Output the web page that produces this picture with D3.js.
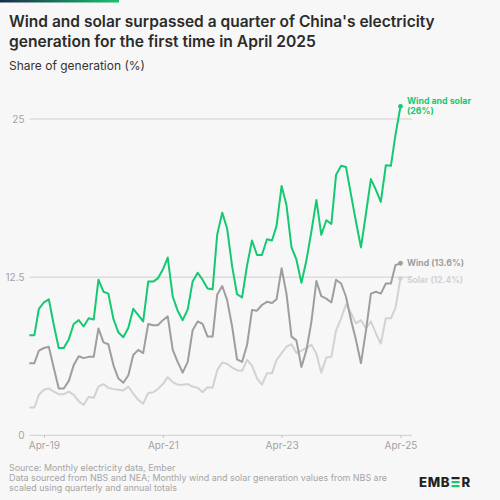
<!DOCTYPE html>
<html>
<head>
<meta charset="utf-8">
<script src="https://cdn.jsdelivr.net/npm/d3@7"></script>
<style>
  html, body { margin: 0; padding: 0; background: #f7f7f7; }
  svg { display: block; }
  text { font-family: Inter, "Noto Sans", sans-serif; }
</style>
</head>
<body>
<svg id="chart" width="500" height="500"></svg>
<script>
// ---- data (monthly, Jan 2019 to Apr 2025) ----
const startMonth = "2019-01";
const windSolar = [7.9,7.9,10.0,10.5,10.75,8.7,6.9,6.9,7.6,8.8,9.1,8.6,
  9.25,9.15,12.3,11.35,11.2,9.2,8.15,7.75,8.5,10.0,9.5,9.0,
  12.15,12.15,12.4,13.1,14.05,10.95,9.85,9.1,9.95,12.15,12.85,12.3,
  11.6,11.55,15.85,17.6,16.35,13.35,11.15,10.9,13.45,15.4,14.25,14.25,
  15.5,15.4,16.55,19.7,18.2,14.85,13.9,12.05,13.85,16.1,18.6,15.85,
  17.0,16.7,20.6,21.3,21.2,19.0,16.9,14.85,17.55,20.25,19.4,18.45,
  21.35,21.3,23.75,26.0];
const wind = [5.7,5.7,6.7,6.9,7.0,5.3,3.7,3.7,4.3,5.55,6.25,6.1,
  6.2,6.2,8.45,7.35,7.2,5.55,4.5,4.15,4.75,6.35,6.75,6.5,
  8.8,8.7,8.7,9.1,9.4,6.75,5.8,4.95,5.8,8.3,9.0,8.8,
  7.8,7.8,11.1,11.8,10.7,8.6,6.0,5.8,7.15,9.9,9.85,10.3,
  10.55,10.45,10.75,13.2,11.2,7.8,7.5,5.4,6.75,8.95,12.2,11.0,
  10.8,10.5,12.3,12.0,10.95,9.1,7.55,5.7,8.3,11.2,11.35,11.2,
  12.0,12.0,13.45,13.6];
const solar = [2.2,2.2,3.2,3.6,3.7,3.45,3.25,3.25,3.45,3.2,2.7,2.4,
  3.05,2.95,3.85,4.05,3.75,3.65,3.6,3.55,3.85,3.3,2.8,2.5,
  3.35,3.4,3.65,4.05,4.6,4.2,4.0,4.0,4.05,3.85,3.75,3.4,
  3.8,3.75,5.15,5.75,5.65,5.35,5.15,5.1,5.95,5.5,4.5,4.0,
  4.9,4.9,5.95,6.5,7.0,7.2,6.5,6.7,6.9,7.15,6.45,4.95,
  6.15,6.2,8.3,9.25,10.35,9.65,8.85,9.1,8.45,9.0,8.05,7.25,
  9.25,9.25,10.05,12.4];
const seriesNames = ["Wind and solar", "Wind", "Solar"];
const seriesLabels = ["(26%)", "(13.6%)", "(12.4%)"];
const yTicks = [0, 12.5, 25];
const yTickLabels = ["0", "12.5", "25"];
const xTickDates = ["2019-04", "2021-04", "2023-04", "2025-04"];
const xTickLabels = ["Apr-19", "Apr-21", "Apr-23", "Apr-25"];
const title = ["Wind and solar surpassed a quarter of China's electricity",
               "generation for the first time in April 2025"];
const subtitle = "Share of generation (%)";
const source = ["Source: Monthly electricity data, Ember",
  "Data sourced from NBS and NEA; Monthly wind and solar generation values from NBS are",
  "scaled using quarterly and annual totals"];

// ---- setup ----
const parse = d3.timeParse("%Y-%m");
const months = d3.range(windSolar.length).map(i => d3.timeMonth.offset(parse(startMonth), i));
const svg = d3.select("#chart");
const colors = ["#14c972", "#9e9e9e", "#d2d2d2"];

function fitText(sel, target) {
  const node = sel.node();
  const fs = parseFloat(sel.attr("font-size"));
  const w = node.getComputedTextLength();
  sel.attr("font-size", (fs * target / w).toFixed(2));
}

// top accent bar
const grad = svg.append("defs").append("linearGradient").attr("id", "topbar");
grad.append("stop").attr("offset", "0%").attr("stop-color", "#1b2a4a");
grad.append("stop").attr("offset", "100%").attr("stop-color", "#19c36f");
svg.append("rect").attr("x", 0).attr("y", 0).attr("width", 119).attr("height", 2.5).attr("fill", "url(#topbar)");

// title
const tWidths = [426, 307];
title.forEach((t, i) => {
  const s = svg.append("text").attr("x", 9).attr("y", 27 + i * 20)
    .attr("font-size", 17).attr("font-weight", 600).attr("fill", "#2b2b2b").text(t);
  fitText(s, tWidths[i]);
});
const sub = svg.append("text").attr("x", 9).attr("y", 70).attr("font-size", 14)
  .attr("fill", "#333").text(subtitle);
fitText(sub, 136);

// scales
const x = d3.scaleTime().domain([months[0], months[months.length - 1]]).range([29.3, 400.5]);
const y = d3.scaleLinear().domain([0, 25]).range([435.3, 119]);

// grid
const grid = svg.append("g");
grid.selectAll("line").data(yTicks).join("line")
  .attr("x1", 29.5).attr("x2", 412)
  .attr("y1", d => y(d)).attr("y2", d => y(d))
  .attr("stroke", "#cfcfcf").attr("stroke-width", 1);
grid.selectAll("text").data(yTicks).join("text")
  .attr("x", 24.5).attr("y", d => y(d)).attr("dy", "0.35em")
  .attr("text-anchor", "end").attr("font-size", 10).attr("fill", "#a3a3a3")
  .text((d, i) => yTickLabels[i]);

// x axis
const xAxis = d3.axisBottom(x)
  .tickValues(xTickDates.map(parse))
  .tickFormat((d, i) => xTickLabels[i])
  .tickSize(2.5).tickPadding(4);
const xg = svg.append("g").attr("transform", `translate(0,${y(0)})`).call(xAxis);
xg.select(".domain").remove();
xg.selectAll(".tick line").attr("stroke", "#bdbdbd");
xg.selectAll(".tick text").attr("font-size", 10).attr("fill", "#a3a3a3")
  .attr("font-family", "Inter, 'Noto Sans', sans-serif");

// lines
const allSeries = [solar, wind, windSolar];
const allColors = [colors[2], colors[1], colors[0]];
const line = d3.line().x((d, i) => x(months[i])).y(d => y(d));
allSeries.forEach((s, k) => {
  svg.append("path").datum(s).attr("d", line)
    .attr("fill", "none").attr("stroke", allColors[k]).attr("stroke-width", 2)
    .attr("stroke-linejoin", "round");
});

// end dots + labels
const ends = [windSolar, wind, solar];
const last = months.length - 1;
ends.forEach((s, k) => {
  svg.append("circle").attr("cx", x(months[last])).attr("cy", y(s[last]))
    .attr("r", 2.4).attr("fill", colors[k]);
});
// wind and solar label (two lines)
const l1 = svg.append("text").attr("x", 407).attr("y", 104).attr("font-size", 10)
  .attr("font-weight", 700).attr("fill", colors[0]).text(seriesNames[0]);
fitText(l1, 64);
svg.append("text").attr("x", 407).attr("y", 113.6).attr("font-size", l1.attr("font-size"))
  .attr("font-weight", 700).attr("fill", colors[0]).text(seriesLabels[0]);
const l2 = svg.append("text").attr("x", 407).attr("y", y(wind[last])).attr("dy", "0.35em")
  .attr("font-size", 10).attr("font-weight", 700).attr("fill", colors[1])
  .text(seriesNames[1] + " " + seriesLabels[1]);
fitText(l2, 57);
const l3 = svg.append("text").attr("x", 407).attr("y", y(solar[last]) + 1.5).attr("dy", "0.35em")
  .attr("font-size", 10).attr("font-weight", 700).attr("fill", colors[2])
  .text(seriesNames[2] + " " + seriesLabels[2]);
fitText(l3, 56);

// source
source.forEach((t, i) => {
  const s = svg.append("text").attr("x", 9).attr("y", 471 + i * 9.8)
    .attr("font-size", 9.5).attr("fill", "#a5a5a5").text(t);
  if (i === 1) fitText(s, 379);
});
const fs2 = svg.selectAll("text").filter(function () { return d3.select(this).text() === source[1]; }).attr("font-size");
svg.selectAll("text").filter(function () { return source.includes(d3.select(this).text()); }).attr("font-size", fs2);

// EMBER logo
const logo = svg.append("g");
const t1 = logo.append("text").attr("x", 419).attr("y", 486.5).attr("font-size", 13.2)
  .attr("font-weight", 800).attr("fill", "#222").attr("letter-spacing", 0.6).text("EMB");
const w1 = t1.node().getComputedTextLength();
const ex = 419 + w1 + 1.5;
[[0, "#222"], [4, "#14c972"], [8, "#14c972"]].forEach(([dy, c]) => {
  logo.append("rect").attr("x", ex).attr("y", 477 + dy).attr("width", 8).attr("height", 2.2).attr("fill", c);
});
logo.append("text").attr("x", ex + 10).attr("y", 486.5).attr("font-size", 13.2)
  .attr("font-weight", 800).attr("fill", "#222").text("R");
</script>
</body>
</html>
